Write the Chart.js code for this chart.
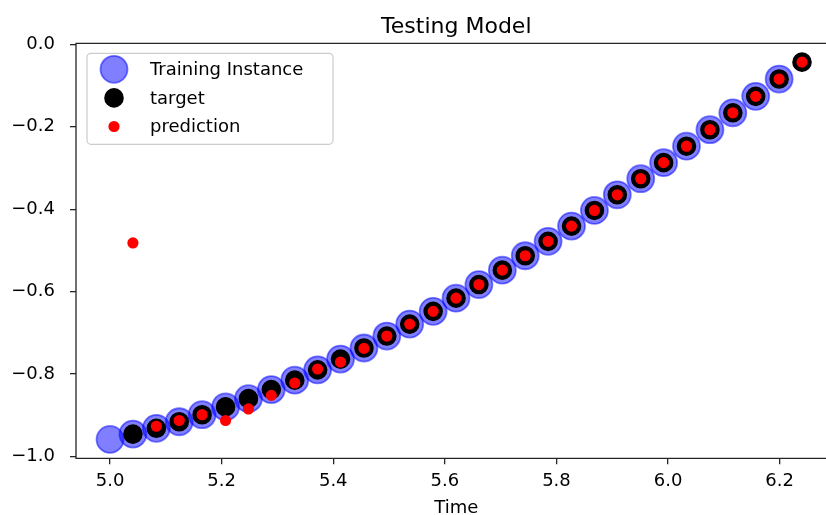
<!DOCTYPE html>
<html>
<head>
<meta charset="utf-8">
<script src="https://cdn.jsdelivr.net/npm/chart.js@4.4.1/dist/chart.umd.min.js"></script>
<style>
  html, body { margin: 0; padding: 0; background: #fff; }
  #chart { display: block; }
</style>
</head>
<body>
<canvas id="chart" width="826" height="515"></canvas>
<script>
// Time steps of the window (first 30 are inputs, last 30 are targets)
const timeSteps = [
  5.000, 5.041, 5.083, 5.124, 5.165, 5.207, 5.248, 5.289, 5.331, 5.372, 5.413,
  5.455, 5.496, 5.537, 5.579, 5.620, 5.661, 5.703, 5.744, 5.785, 5.827,
  5.868, 5.909, 5.951, 5.992, 6.033, 6.075, 6.116, 6.157, 6.199, 6.240,
];
const trueValues = [
  -0.959, -0.946, -0.932, -0.916, -0.899, -0.880, -0.860, -0.838, -0.815, -0.790, -0.764,
  -0.737, -0.708, -0.679, -0.648, -0.616, -0.583, -0.548, -0.513, -0.478, -0.441,
  -0.403, -0.365, -0.326, -0.287, -0.247, -0.207, -0.166, -0.126, -0.084, -0.043,
];
// model output for each target step
const predictions = [
  -0.482, -0.927, -0.913, -0.899, -0.913, -0.885, -0.852, -0.822, -0.788, -0.771,
  -0.738, -0.708, -0.679, -0.648, -0.616, -0.583, -0.548, -0.513, -0.478, -0.441,
  -0.403, -0.365, -0.326, -0.287, -0.247, -0.207, -0.166, -0.126, -0.084, -0.043,
];
const xTicks = [5.0, 5.2, 5.4, 5.6, 5.8, 6.0, 6.2];
const yTicks = [0.0, -0.2, -0.4, -0.6, -0.8, -1.0];

const FONT = 'DejaVu Sans';
const INK = '#262626';
// full axes span runs past the right edge; titles centre on it
const X_MIN = 4.939, X_MAX = 6.283, X_FULL_MAX = 6.302;

const fmt = (v) => (v < 0 ? '\u2212' : '') + Math.abs(v).toFixed(1);
const pts = (xs, ys) => ys.map((y, i) => ({ x: xs[i], y }));

const inputPts = pts(timeSteps.slice(0, -1), trueValues.slice(0, -1));
const targetPts = pts(timeSteps.slice(1), trueValues.slice(1));
const predPts = pts(timeSteps.slice(1), predictions);

// left, top and bottom spines plus the title and x label
const framePlugin = {
  id: 'frame',
  afterDraw(chart) {
    const { ctx, chartArea: a } = chart;
    const cx = chart.scales.x.getPixelForValue((X_MIN + X_FULL_MAX) / 2);
    ctx.save();
    ctx.strokeStyle = INK;
    ctx.lineWidth = 1.3;
    ctx.beginPath();
    ctx.moveTo(a.right + 2, a.top);
    ctx.lineTo(a.left, a.top);
    ctx.lineTo(a.left, a.bottom);
    ctx.lineTo(a.right + 2, a.bottom);
    ctx.stroke();
    ctx.fillStyle = '#000';
    ctx.textAlign = 'center';
    ctx.textBaseline = 'alphabetic';
    ctx.font = `22px "${FONT}"`;
    ctx.fillText('Testing Model', cx, 32.5);
    ctx.font = `18px "${FONT}"`;
    ctx.fillText('Time', cx, 513);
    ctx.restore();
  },
};

// boxed legend in the upper-left corner, marker sizes taken from the datasets
const cornerLegend = {
  id: 'cornerLegend',
  afterDraw(chart) {
    const { ctx, chartArea: a } = chart;
    const x0 = a.left + 11, y0 = a.top + 10, w = 246, h = 91;
    ctx.save();
    ctx.beginPath();
    ctx.roundRect(x0, y0, w, h, 4);
    ctx.fillStyle = 'rgba(255,255,255,0.8)';
    ctx.fill();
    ctx.strokeStyle = '#cccccc';
    ctx.lineWidth = 1.2;
    ctx.stroke();
    ctx.font = `18px "${FONT}"`;
    ctx.textBaseline = 'middle';
    chart.data.datasets.slice().reverse().forEach((ds, i) => {
      const cy = y0 + 16 + i * 28.6;
      const cx = x0 + 27;
      ctx.beginPath();
      ctx.arc(cx, cy, ds.pointRadius, 0, Math.PI * 2);
      ctx.fillStyle = ds.pointBackgroundColor;
      ctx.fill();
      ctx.lineWidth = ds.pointBorderWidth;
      ctx.strokeStyle = ds.pointBorderColor;
      ctx.stroke();
      ctx.fillStyle = '#000';
      ctx.fillText(ds.label, x0 + 63, cy + 1);
    });
    ctx.restore();
  },
};

new Chart(document.getElementById('chart'), {
  type: 'scatter',
  data: {
    datasets: [
      {
        label: 'prediction',
        data: predPts,
        order: 1,
        pointRadius: 4.8,
        pointBorderWidth: 1.6,
        pointBackgroundColor: '#ff0000',
        pointBorderColor: '#ff0000',
      },
      {
        label: 'target',
        data: targetPts,
        order: 2,
        pointRadius: 9,
        pointBorderWidth: 1.6,
        pointBackgroundColor: '#000000',
        pointBorderColor: '#000000',
      },
      {
        label: 'Training Instance',
        data: inputPts,
        order: 3,
        pointRadius: 13.5,
        pointBorderWidth: 1.8,
        pointBackgroundColor: 'rgba(0,0,255,0.5)',
        pointBorderColor: 'rgba(0,0,255,0.5)',
      },
    ],
  },
  options: {
    responsive: false,
    animation: false,
    events: [],
    layout: { autoPadding: false, padding: { left: 0, right: 0, top: 43.3, bottom: 0 } },
    plugins: {
      legend: { display: false },
      tooltip: { enabled: false },
      title: { display: false },
    },
    scales: {
      x: {
        type: 'linear',
        min: X_MIN,
        max: X_MAX,
        afterFit: (s) => {
          s.height = 56.7;
          s.paddingLeft = 0;
          s.paddingRight = 0;
        },
        afterBuildTicks: (s) => { s.ticks = xTicks.map((value) => ({ value })); },
        border: { display: false },
        grid: { drawOnChartArea: false, drawTicks: true, tickLength: 6, tickColor: INK, lineWidth: 1.3 },
        ticks: {
          color: '#000',
          font: { family: FONT, size: 18 },
          padding: 6,
          maxRotation: 0,
          callback: (v) => fmt(v),
        },
      },
      y: {
        type: 'linear',
        min: -1.0048,
        max: 0.0028,
        afterFit: (s) => {
          s.width = 76;
          s.paddingTop = 0;
          s.paddingBottom = 0;
        },
        afterBuildTicks: (s) => { s.ticks = yTicks.map((value) => ({ value })); },
        border: { display: false },
        grid: { drawOnChartArea: false, drawTicks: true, tickLength: 6, tickColor: INK, lineWidth: 1.3 },
        ticks: {
          color: '#000',
          font: { family: FONT, size: 18 },
          padding: 15,
          callback: (v) => fmt(v),
        },
      },
    },
  },
  plugins: [framePlugin, cornerLegend],
});
</script>
</body>
</html>
